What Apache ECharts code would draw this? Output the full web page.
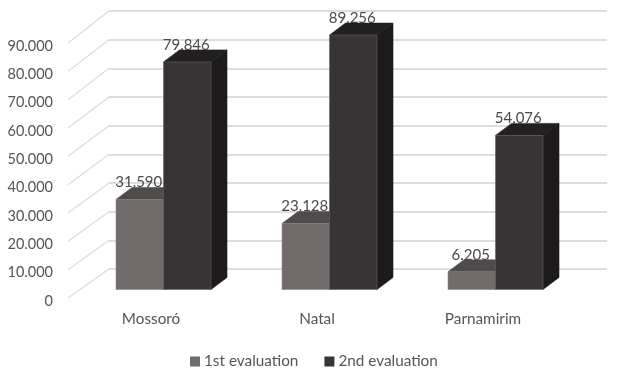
<!DOCTYPE html>
<html><head><meta charset="utf-8">
<style>html,body{margin:0;padding:0;background:#fff}#c{width:618px;height:377px}</style>
<script src="https://cdn.jsdelivr.net/npm/echarts@6/dist/echarts.min.js"></script>
</head><body><div id="c"></div>
<script>
const categories = ['Mossoró', 'Natal', 'Parnamirim'];
const firstEvaluation = [31590, 23128, 6205];
const secondEvaluation = [79846, 89256, 54076];
const tickValues = [0, 10000, 20000, 30000, 40000, 50000, 60000, 70000, 80000, 90000];

const FONT = 'Lato, "Open Sans", sans-serif';
const TEXT = '#555555';
const GRID_LINE = '#dddddd';
// planes of the fake 3D box
const WALL = { left: 109, width: 498, top: 11, height: 258 };
const FRONT = { left: 68, width: 498, top: 43, height: 255 };
const BARS = { left: 80.5, width: 498, top: 33, height: 256.5 };
const TICKS = { left: 68, width: 498, top: 46, height: 255 };
const DX = 16, DY = -12, BAR_W = 47.5;
const fmt = v => { const s = String(v); return s.length > 3 ? s.slice(0, -3) + '.' + s.slice(-3) : s; };

function grid(p) { return { left: p.left, top: p.top, width: p.width, height: p.height }; }
function xAxis(i, show) {
  return { gridIndex: i, type: 'category', data: categories, show,
    axisLine: { show: false }, axisTick: { show: false }, splitLine: { show: false },
    axisLabel: { margin: 14, color: TEXT, fontFamily: FONT, fontSize: 15.3 } };
}
function yAxis(i, show, split, labels) {
  return { gridIndex: i, type: 'value', min: 0, max: 90000, interval: 10000, show,
    axisLine: { show: false }, axisTick: { show: false },
    splitLine: { show: split, lineStyle: { color: GRID_LINE, width: 2 } },
    axisLabel: { show: labels, margin: 15, color: TEXT, fontFamily: FONT, fontSize: 14.5, formatter: fmt } };
}
function slantItem(params, api) {
  const p = api.coord([0, api.value(1)]);
  const t = ((FRONT.top + FRONT.height) - p[1]) / FRONT.height;
  const by = WALL.top + WALL.height - t * WALL.height;
  return { type: 'line', silent: true,
    shape: { x1: FRONT.left, y1: p[1], x2: WALL.left, y2: by },
    style: { stroke: GRID_LINE, lineWidth: 1.3, fill: null } };
}
function barItem(side, c) {
  return function (params, api) {
    const base = api.coord([api.value(0), 0]);
    const top = api.coord([api.value(0), api.value(1)]);
    const x0 = side < 0 ? base[0] - BAR_W : base[0];
    const x1 = x0 + BAR_W;
    const poly = (pts, fill, stroke) => ({ type: 'polygon', shape: { points: pts }, style: { fill, stroke: stroke || fill, lineWidth: 0.6 } });
    return { type: 'group', children: [
      poly([[x1, top[1]], [x1 + DX, top[1] + DY], [x1 + DX, base[1] + DY], [x1, base[1]]], c.side),
      poly([[x0, top[1]], [x0 + DX, top[1] + DY], [x1 + DX, top[1] + DY], [x1, top[1]]], c.top),
      poly([[x0, top[1]], [x1, top[1]], [x1, base[1]], [x0, base[1]]], c.front, c.edge)
    ] };
  };
}
function labelItem(side) {
  return function (params, api) {
    const top = api.coord([api.value(0), api.value(1)]);
    return { type: 'text', silent: true, x: top[0] + side * BAR_W / 2 - 1, y: top[1] - 17,
      style: { text: fmt(api.value(1)), align: 'center', verticalAlign: 'middle', fill: '#4a4a4a', font: '15px ' + FONT } };
  };
}
const pairs = vals => vals.map((v, i) => [i, v]);
const C1 = { front: '#716b6b', top: '#4f4b4b', side: '#3a3737', edge: '#8a8585' };
const C2 = { front: '#383435', top: '#211f1f', side: '#1c1a1a', edge: '#666262' };

const chart = echarts.init(document.getElementById('c'), null, { renderer: 'canvas' });
chart.setOption({
  animation: false,
  backgroundColor: '#fff',
  grid: [grid(WALL), grid(FRONT), grid(BARS), grid(TICKS)],
  xAxis: [xAxis(0, false), xAxis(1, true), xAxis(2, false), xAxis(3, false)],
  yAxis: [yAxis(0, true, true, false), yAxis(1, false, false, false), yAxis(2, false, false, false), yAxis(3, true, false, true)],
  legend: { left: 185, top: 349, itemWidth: 10, itemHeight: 10, itemGap: 26, icon: 'rect',
    data: ['1st evaluation', '2nd evaluation'],
    textStyle: { color: TEXT, fontFamily: FONT, fontSize: 15.3, padding: [0, 0, 0, -1] } },
  series: [
    { type: 'custom', name: 'slant', xAxisIndex: 1, yAxisIndex: 1, clip: false, z: 1, renderItem: slantItem,
      data: pairs(tickValues), encode: { x: 0, y: 1 } },
    { type: 'custom', name: 'labels1', xAxisIndex: 2, yAxisIndex: 2, clip: false, z: 2, renderItem: labelItem(-1),
      data: pairs(firstEvaluation), encode: { x: 0, y: 1 } },
    { type: 'custom', name: 'labels2', xAxisIndex: 2, yAxisIndex: 2, clip: false, z: 2, renderItem: labelItem(1),
      data: pairs(secondEvaluation), encode: { x: 0, y: 1 } },
    { type: 'custom', name: '1st evaluation', xAxisIndex: 2, yAxisIndex: 2, clip: false, z: 3, renderItem: barItem(-1, C1),
      itemStyle: { color: C1.front }, data: pairs(firstEvaluation), encode: { x: 0, y: 1 } },
    { type: 'custom', name: '2nd evaluation', xAxisIndex: 2, yAxisIndex: 2, clip: false, z: 4, renderItem: barItem(1, C2),
      itemStyle: { color: C2.front }, data: pairs(secondEvaluation), encode: { x: 0, y: 1 } }
  ]
});
</script></body></html>
